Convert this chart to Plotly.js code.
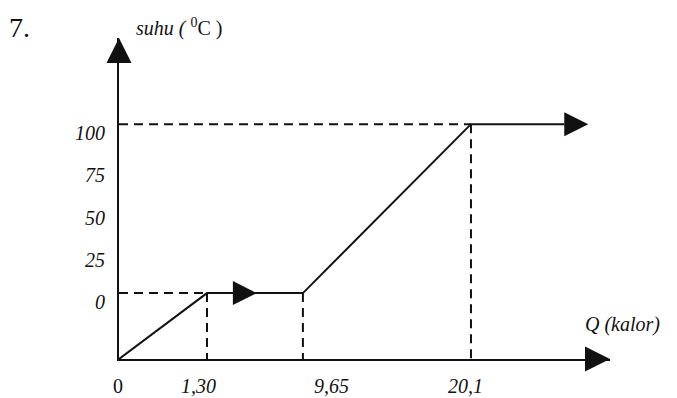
<!DOCTYPE html>
<html>
<head>
<meta charset="utf-8">
<script src="https://cdn.plot.ly/plotly-3.0.1.min.js"></script>
<style>html,body{margin:0;padding:0;background:#fff;}#chart{width:677px;height:398px;}</style>
</head>
<body>
<div id="chart"></div>
<script>
// Q (kalor) tick labels and their schematic positions (figure is not drawn to scale)
const qLabels = ['0', '1,30', '9,65', '20,1'];
const qPos = [0, 1, 2.09, 4.0];
// temperature ticks (°C)
const suhuTicks = [0, 25, 50, 75, 100];
// heating curve: schematic Q position and temperature
const curveQ = [0, 1, 2.09, 4.0, 5.06];
const curveT = [-39, 0, 0, 100, 100];

const xMax = 5.58, yMin = -39, yMax = 151;
const serif = 'Liberation Serif, Times New Roman, serif';

// dashed guide lines from the curve's corners to the axes
const gx = [], gy = [];
[1, 3].forEach(i => { gx.push(0, curveQ[i], null); gy.push(curveT[i], curveT[i], null); });
[1, 2, 3].forEach(i => { gx.push(curveQ[i], curveQ[i], null); gy.push(curveT[i], yMin, null); });

const traces = [
  {x: gx, y: gy, mode: 'lines', line: {color: '#111', width: 2, dash: '9px,6px'}, hoverinfo: 'skip'},
  {x: curveQ, y: curveT, mode: 'lines', line: {color: '#111', width: 2}, hoverinfo: 'skip'}
];

const tri = 'M0,-12 L24,0 L0,12 Z';
const shapes = [
  {type: 'path', xref: 'paper', yref: 'paper', xsizemode: 'pixel', ysizemode: 'pixel', xanchor: 1, yanchor: 0,
   path: 'M0,0 L-25,12.5 L-25,-12.5 Z', fillcolor: '#111', line: {width: 0}},
  {type: 'path', xref: 'paper', yref: 'paper', xsizemode: 'pixel', ysizemode: 'pixel', xanchor: 0, yanchor: 1,
   path: 'M0,0 L-12.5,-25 L12.5,-25 Z', fillcolor: '#111', line: {width: 0}},
  {type: 'path', xref: 'x', yref: 'y', xsizemode: 'pixel', ysizemode: 'pixel',
   xanchor: curveQ[1] + 0.27 * (curveQ[2] - curveQ[1]), yanchor: curveT[1],
   path: tri, fillcolor: '#111', line: {width: 0}},
  {type: 'path', xref: 'x', yref: 'y', xsizemode: 'pixel', ysizemode: 'pixel',
   xanchor: curveQ[4], yanchor: curveT[4],
   path: tri, fillcolor: '#111', line: {width: 0}}
];

const xShift = [-1, -8, 29, -5];
const annotations = qLabels.map((t, i) => ({
  x: qPos[i], y: yMin, xref: 'x', yref: 'y', text: t, showarrow: false,
  xanchor: 'center', yanchor: 'middle', xshift: xShift[i], yshift: -27,
  font: {family: serif, size: 20, color: '#111', style: i === 0 ? 'normal' : 'italic'}
}));
annotations.push(
  {xref: 'paper', yref: 'paper', x: -0.228, y: 1.034, xanchor: 'left', yanchor: 'middle', showarrow: false,
   text: '7.', font: {family: serif, size: 28, color: '#111'}},
  {xref: 'paper', yref: 'paper', x: 0.0305, y: 1.034, xanchor: 'left', yanchor: 'middle', showarrow: false,
   text: '<i>suhu</i>&nbsp;<i>(</i>&nbsp;<sup>0</sup>C&nbsp;)', font: {family: serif, size: 20, color: '#111'}},
  {xref: 'paper', yref: 'paper', x: 0.945, y: 0.106, xanchor: 'left', yanchor: 'middle', showarrow: false,
   text: 'Q (kalor)', font: {family: serif, size: 20, color: '#111', style: 'italic'}}
);

const layout = {
  width: 677, height: 398,
  margin: {l: 119, r: 67, t: 38, b: 39},
  paper_bgcolor: '#fff', plot_bgcolor: '#fff',
  showlegend: false, hovermode: false,
  xaxis: {range: [0, xMax], showgrid: false, zeroline: false, showline: true, linecolor: '#111', linewidth: 2,
          showticklabels: false, ticks: '', fixedrange: true},
  yaxis: {range: [yMin, yMax], showgrid: false, zeroline: false, showline: true, linecolor: '#111', linewidth: 2,
          tickmode: 'array', tickvals: suhuTicks, ticktext: suhuTicks.map(String), ticks: '',
          ticklabelshift: 9, ticklabelstandoff: 8,
          tickfont: {family: serif, size: 20, color: '#111', style: 'italic'}, fixedrange: true},
  shapes: shapes,
  annotations: annotations
};

Plotly.newPlot('chart', traces, layout, {displayModeBar: false, staticPlot: true});
</script>
</body>
</html>
